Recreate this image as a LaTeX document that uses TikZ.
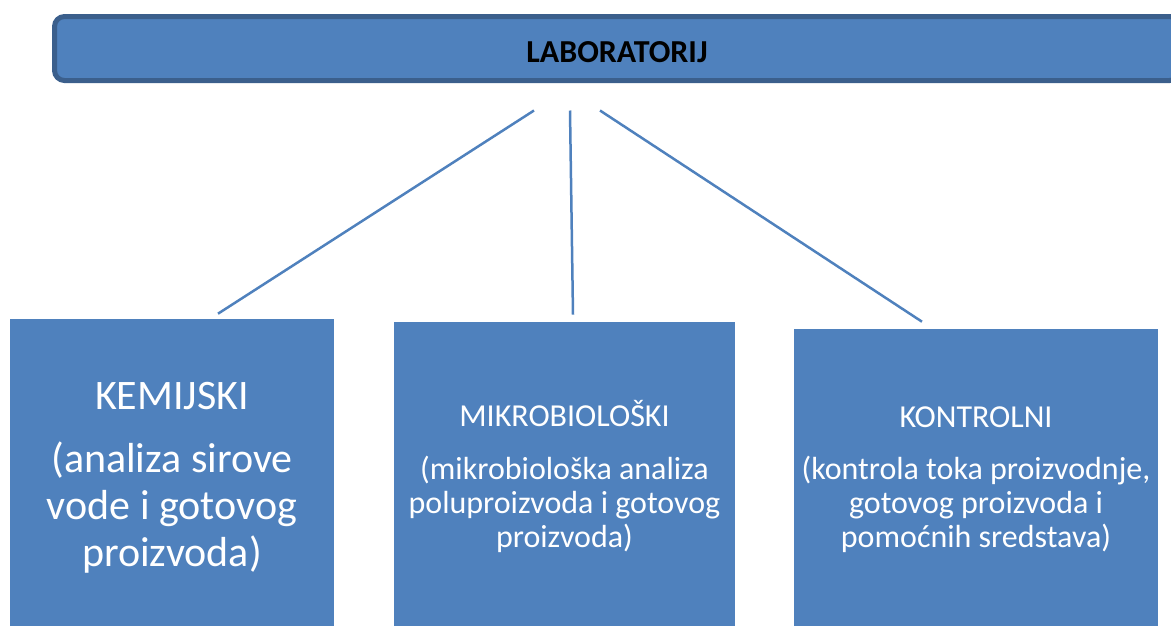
\documentclass[tikz,border=0pt]{standalone}
\usepackage{fontspec}
\setmainfont{Carlito}
\usepackage{xcolor}
\usepackage{tikz}
\usetikzlibrary{positioning}
\definecolor{plava}{HTML}{4F81BD}
\definecolor{rub}{HTML}{3B5F8C}

\begin{document}
\begin{tikzpicture}[x=1pt,y=-1pt,semithick]
	\tikzstyle{traka}=[draw=rub, line width=5pt, fill=plava, rounded corners=10pt, minimum width=1125pt, minimum height=64pt, inner sep=0pt, text height=27pt, text depth=0pt, font=\fontsize{32}{36}\selectfont\bfseries]
	\tikzstyle{odjel}=[fill=plava, inner sep=0pt]
	\tikzstyle{naslov}=[text=white, inner sep=0pt, anchor=base]
	\tikzstyle{opis}=[text=white, inner sep=0pt, anchor=north, align=center]
	\tikzstyle{veza}=[draw=plava, line width=2.5pt]
	\clip (0,0) rectangle (1171,625);
	\useasboundingbox (0,0) rectangle (1171,625);
	\node[traka] 	(lab) at (617,48.5) 	{LABORATORIJ};
	\node[odjel, minimum width=324pt, minimum height=321pt] 	(kem) at (172,479.5) 	{};
	\node[odjel, minimum width=341pt, minimum height=318pt] 	(mik) at (564.5,481) 	{};
	\node[odjel, minimum width=364pt, minimum height=311pt] 	(kon) at (976,484.5) 	{};
	\node[naslov, font=\fontsize{42}{47}\selectfont] 	(kemn) at (172,409) 	{KEMIJSKI};
	\node[opis, font=\fontsize{42}{47}\selectfont] 	(kemo) at (172,441.5) 	{(analiza sirove\\vode i gotovog\\proizvoda)};
	\node[naslov, font=\fontsize{32}{34}\selectfont] 	(mikn) at (564.5,426) 	{MIKROBIOLOŠKI};
	\node[opis, font=\fontsize{32}{34}\selectfont] 	(miko) at (564.5,455.5) 	{(mikrobiološka analiza\\poluproizvoda i gotovog\\proizvoda)};
	\node[naslov, font=\fontsize{32}{34}\selectfont] 	(konn) at (976,427) 	{KONTROLNI};
	\node[opis, font=\fontsize{32}{34}\selectfont] 	(kono) at (976,455.5) 	{(kontrola toka proizvodnje,\\gotovog proizvoda i\\pomoćnih sredstava)};
	\path[veza]
		([shift={(-83pt,-27.5pt)}]lab.south) edge ([shift={(46pt,5pt)}]kem.north)
		([shift={(-47pt,-27.5pt)}]lab.south) edge ([shift={(8.5pt,7pt)}]mik.north)
		([shift={(-17pt,-27.5pt)}]lab.south) edge ([shift={(-54pt,7pt)}]kon.north);
\end{tikzpicture}
\end{document}
